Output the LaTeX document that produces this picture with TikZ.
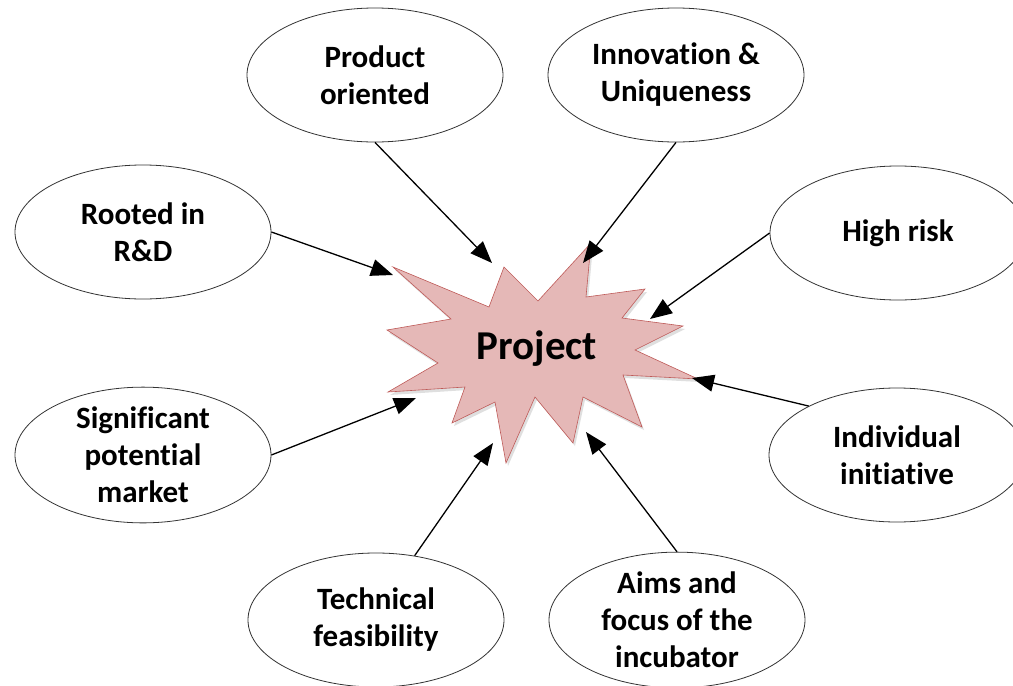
\documentclass[tikz,border=0pt]{standalone}
\usepackage{fontspec}
\setmainfont{Carlito}[Ligatures=NoCommon]
\usetikzlibrary{arrows.meta,shapes.geometric}
\definecolor{starfill}{RGB}{229,184,183}
\definecolor{starline}{RGB}{190,90,88}
\tikzset{
  bubble/.style={ellipse,draw=black!80,line width=0.8pt,fill=white,minimum width=256pt,minimum height=134pt,inner sep=0pt,align=center,font=\bfseries\fontsize{31}{37}\selectfont},
  feed/.style={line width=1.3pt,-{Triangle[length=22pt,width=17pt]}},
}
\begin{document}
\begin{tikzpicture}[x=1pt,y=-1pt]
\useasboundingbox (0,0) rectangle (1013,686);
\clip (0,0) rectangle (1013,686);
% star
\path[fill=black!25,opacity=0.5] plot coordinates {(506,270) (540,304) (593,246) (588,300) (647,292) (624,321) (685,329) (637,353) (700,382) (625,378) (644,430) (585,400) (575,446) (537,400) (508,466) (497,405) (454,426) (467,390) (390,395) (440,366) (389,333) (453,322) (395,270) (491,310)} -- cycle;
\draw[fill=starfill,draw=starline,line width=0.6pt] plot coordinates {(504,267) (538,301) (591,243) (586,297) (645,289) (622,318) (683,326) (635,350) (698,379) (623,375) (642,427) (583,397) (573,443) (535,397) (506,463) (495,402) (452,423) (465,387) (388,392) (438,363) (387,330) (451,319) (393,267) (489,307)} -- cycle;
\node[font=\bfseries\fontsize{41}{48}\selectfont] (project) at (537,349) {Project};
% arrow ends on the star
\coordinate (eProd) at (492,263);
\coordinate (eInno) at (583,263);
\coordinate (eRoot) at (393,275);
\coordinate (eRisk) at (650,319);
\coordinate (eIndi) at (692,378);
\coordinate (eSign) at (416,398);
\coordinate (eTech) at (493,443);
\coordinate (eAims) at (586,432);
% ellipses
\node[bubble] (prod) at (375,75) {Product\\oriented};
\node[bubble] (inno) at (676,75) {Innovation \&\\Uniqueness};
\node[bubble] (root) at (143,232) {Rooted in\\R\&D};
\node[bubble] (risk) at (898,233) {High risk};
\node[bubble] (sign) at (143,455) {Significant\\potential\\market};
\node[bubble] (indi) at (897,455) {Individual\\initiative};
\node[bubble] (tech) at (376,620) {Technical\\feasibility};
\node[bubble] (aims) at (677,620) {Aims and\\focus of the\\incubator};
% connectors
\draw[feed] (prod.south) -- (eProd);
\draw[feed] (inno.south) -- (eInno);
\draw[feed] (root.east) -- (eRoot);
\draw[feed] (risk.west) -- (eRisk);
\draw[feed] (indi.151) -- (eIndi);
\draw[feed] (sign.east) -- (eSign);
\draw[feed] (tech.59) -- (eTech);
\draw[feed] (aims.north) -- (eAims);
\end{tikzpicture}
\end{document}
